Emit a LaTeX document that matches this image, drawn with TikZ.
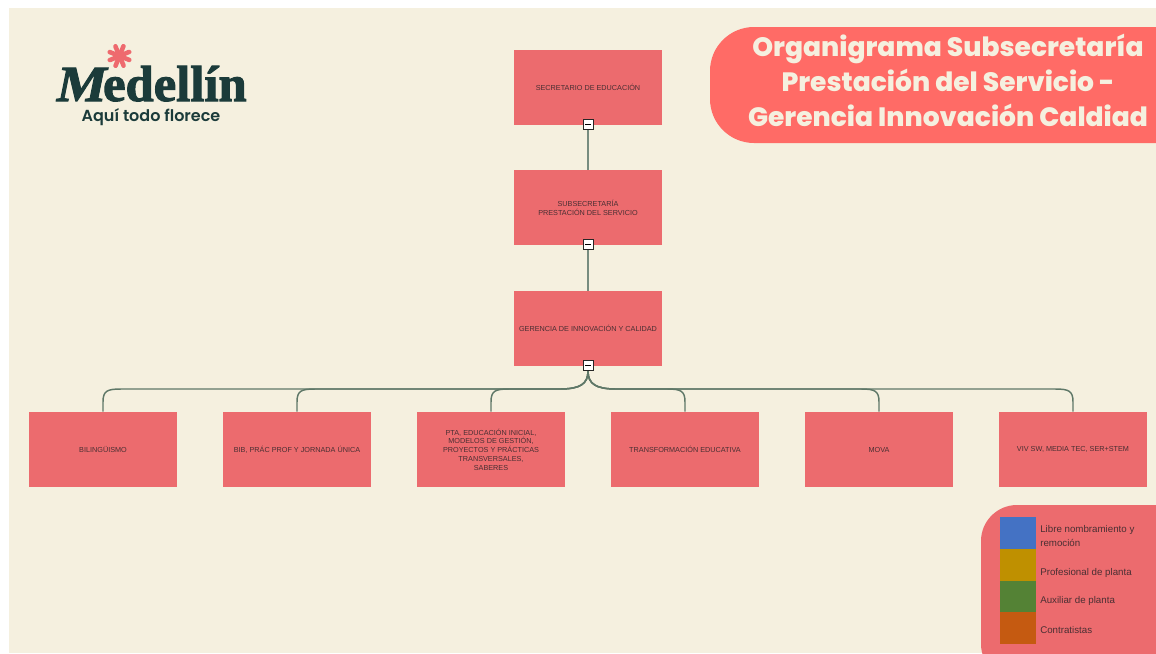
\documentclass[tikz,border=0pt]{standalone}
\usepackage{fontspec}
\setmainfont{Liberation Sans}
\newfontfamily\popb{Poppins}[UprightFont=* ExtraBold]
\newfontfamily\pops{Poppins}[UprightFont=* SemiBold]
\newfontfamily\logof{Liberation Serif}[UprightFont=* Bold,UprightFeatures={FakeBold=2}]
\newfontfamily\logom{Liberation Serif}[UprightFont=* Bold,UprightFeatures={FakeBold=2,FakeSlant=0.2}]
\usetikzlibrary{calc}
\definecolor{paper}{HTML}{F5F0DF}
\definecolor{boxred}{HTML}{EC6B6E}
\definecolor{titlered}{HTML}{FF6B66}
\definecolor{logogreen}{HTML}{1B3B3A}
\definecolor{flower}{HTML}{EE6A6E}
\definecolor{wire}{HTML}{5F7868}
\definecolor{ink}{HTML}{4A2F33}
\definecolor{sblue}{HTML}{4472C4}
\definecolor{sgold}{HTML}{BF9000}
\definecolor{sgreen}{HTML}{548235}
\definecolor{sorange}{HTML}{C55A11}
\tikzset{
  x=0.75pt,y=-0.75pt,
  orgbox/.style={draw=none,fill=boxred,minimum width=111pt,minimum height=56.25pt,inner sep=0pt,align=center,text=ink,font=\fontsize{5.45pt}{6.6pt}\selectfont},
  toggle/.style={draw=black!85,fill=white,line width=0.6pt,minimum size=7.4pt,inner sep=0pt},
  wireline/.style={draw=wire,line width=1.1pt},
  swatch/.style={draw=none,minimum width=27pt,minimum height=23.6pt,inner sep=0pt},
  legendtxt/.style={anchor=west,inner sep=0pt,text=ink,align=left,font=\fontsize{7.3pt}{11pt}\selectfont},
  titletxt/.style={text=paper,align=center,inner sep=0pt,font=\popb\fontsize{19.9pt}{26pt}\selectfont},
}
\begin{document}
\begin{tikzpicture}
\useasboundingbox (0,0) rectangle (1156,653);
\fill[white] (0,0) rectangle (1156,653);
\fill[paper] (9,8) rectangle (1156,653);
% title and legend panels
\begin{scope}
\clip (0,0) rectangle (1156,653);
\fill[titlered,rounded corners=33pt] (710,27) rectangle (1220,143);
\fill[boxred,rounded corners=27pt] (981,505) rectangle (1220,680);
\end{scope}
\node[titletxt] (title) at (948,80.5) {Organigrama Subsecretaría\\Prestación del Servicio -\\Gerencia Innovación Caldiad};
% logo
\foreach \a in {0,45,...,315}
  \draw[flower,line width=3.4pt,line cap=round] (119.5,56) -- ++(\a+22:10.5);
\fill[flower] (119.5,56) circle (4pt);
\node[anchor=base west,inner sep=0pt,text=logogreen,font=\logof\fontsize{38pt}{38pt}\selectfont] (logo) at (55,101) {{\logom M}edellín};
\node[anchor=center,inner sep=0pt,text=logogreen,font=\pops\fontsize{12pt}{13pt}\selectfont] (tag) at (151,117.5) {Aquí todo florece};
% boxes
\node[orgbox] (sec) at (588,87.5) {SECRETARIO DE EDUCACIÓN};
\node[orgbox] (sub) at (588,207.5) {SUBSECRETARÍA\\PRESTACIÓN DEL SERVICIO};
\node[orgbox] (ger) at (588,328.5) {GERENCIA DE INNOVACIÓN Y CALIDAD};
\node[orgbox] (c1) at (103,449.5) {BILINGÜISMO};
\node[orgbox] (c2) at (297,449.5) {BIB, PRÁC PROF Y JORNADA ÚNICA};
\node[orgbox] (c3) at (491,449.5) {PTA, EDUCACIÓN INICIAL,\\MODELOS DE GESTIÓN,\\PROYECTOS Y PRÁCTICAS\\TRANSVERSALES,\\SABERES};
\node[orgbox] (c4) at (685,449.5) {TRANSFORMACIÓN EDUCATIVA};
\node[orgbox] (c5) at (879,449.5) {MOVA};
\node[orgbox] (c6) at (1073,449.5) {VIV SW, MEDIA TEC, SER+STEM};
% connectors
\coordinate (hub) at (588,365);
\coordinate (bus) at (588,389);
\draw[wireline,line width=1.3pt,draw=wire!85] (sec.south) -- (sub.north);
\draw[wireline,line width=1.3pt,draw=wire!85] (sub.south) -- (ger.north);
\foreach \c/\s in {c1/-1,c2/-1,c3/-1,c4/1,c5/1,c6/1}{
  \draw[wireline] (hub) -- ($(hub)+(0,6)$) .. controls ($(hub)+(0,19)$) and ($(hub)+(\s*8,24)$) .. ($(bus)+(\s*28,0)$)
     -- ($(\c.north |- bus)+(-\s*18,0)$)
     .. controls ($(\c.north |- bus)+(-\s*4,0)$) and ($(\c.north |- bus)+(0,2)$) .. ($(\c.north |- bus)+(0,13)$) -- (\c.north);
}
% toggles
\foreach \n/\y in {t1/124.5,t2/244.5,t3/365.5}{
  \node[toggle] (\n) at (588,\y) {};
  \fill[black] ($(\n.center)+(-2.5pt,-0.5pt)$) rectangle ($(\n.center)+(2.5pt,0.5pt)$);
}
% legend
\node[swatch,fill=sblue] (s1) at (1018,533) {};
\node[swatch,fill=sgold] (s2) at (1018,565) {};
\node[swatch,fill=sgreen] (s3) at (1018,596.5) {};
\node[swatch,fill=sorange] (s4) at (1018,628) {};
\node[legendtxt] (l1) at (1040,536) {Libre nombramiento y\\remoción};
\node[legendtxt] (l2) at (1040,572.5) {Profesional de planta};
\node[legendtxt] (l3) at (1040,601) {Auxiliar de planta};
\node[legendtxt] (l4) at (1040,630) {Contratistas};
\end{tikzpicture}
\end{document}
